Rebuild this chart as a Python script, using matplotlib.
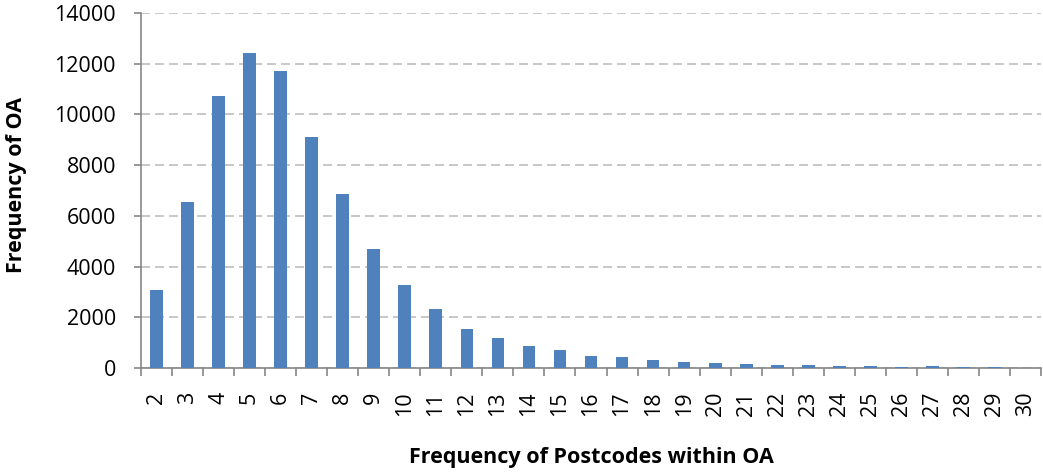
import numpy as np
import matplotlib.pyplot as plt

postcodes = list(range(2, 31))
oa_counts = [3076, 6560, 10730, 12410, 11700, 9110, 6860, 4690, 3270, 2330,
             1550, 1190, 870, 710, 490, 420, 320, 250, 200, 160,
             120, 105, 80, 80, 40, 65, 40, 35, 0]

plt.rcParams['font.family'] = ['Open Sans', 'DejaVu Sans']

fig = plt.figure(figsize=(10.43, 4.72), dpi=100)
ax = fig.add_axes([141/1043, 1-368/472, 900/1043, 355/472])

x = np.arange(len(postcodes))
ax.bar(x, oa_counts, width=0.41, color='#4F81BD', zorder=3)

ax.set_xlim(-0.5, len(postcodes)-0.5)
ax.set_ylim(0, 14000)
ax.set_yticks(range(0, 14001, 2000))
ax.yaxis.grid(True, linestyle=(0, (5.4, 3)), color='#BFBFBF', linewidth=1.2, zorder=0)

ax.set_xticks(x)
ax.set_xticklabels([str(p) for p in postcodes], rotation=90)
ax.set_xticks(np.arange(-0.5, len(postcodes), 1), minor=True)
ax.tick_params(axis='x', which='major', length=0, pad=17, labelsize=15.5)
ax.tick_params(axis='x', which='minor', length=6, color='#868686', width=1.2)
ax.tick_params(axis='y', length=5, color='#868686', width=1.2, labelsize=15.5, pad=13)

for s in ['top', 'right']:
    ax.spines[s].set_visible(False)
for s in ['left', 'bottom']:
    ax.spines[s].set_color('#868686')
    ax.spines[s].set_linewidth(1.2)

ax.set_xlabel('Frequency of Postcodes within OA', fontsize=15.5, fontweight='bold')
ax.xaxis.set_label_coords(0.5, -0.2535)
ax.xaxis.label.set_va('center')
ax.set_ylabel('Frequency of OA', fontsize=15.5, fontweight='bold')
ax.yaxis.set_label_coords(-0.138, 0.515)
ax.yaxis.label.set_va('center')

fig.savefig('out.png')
